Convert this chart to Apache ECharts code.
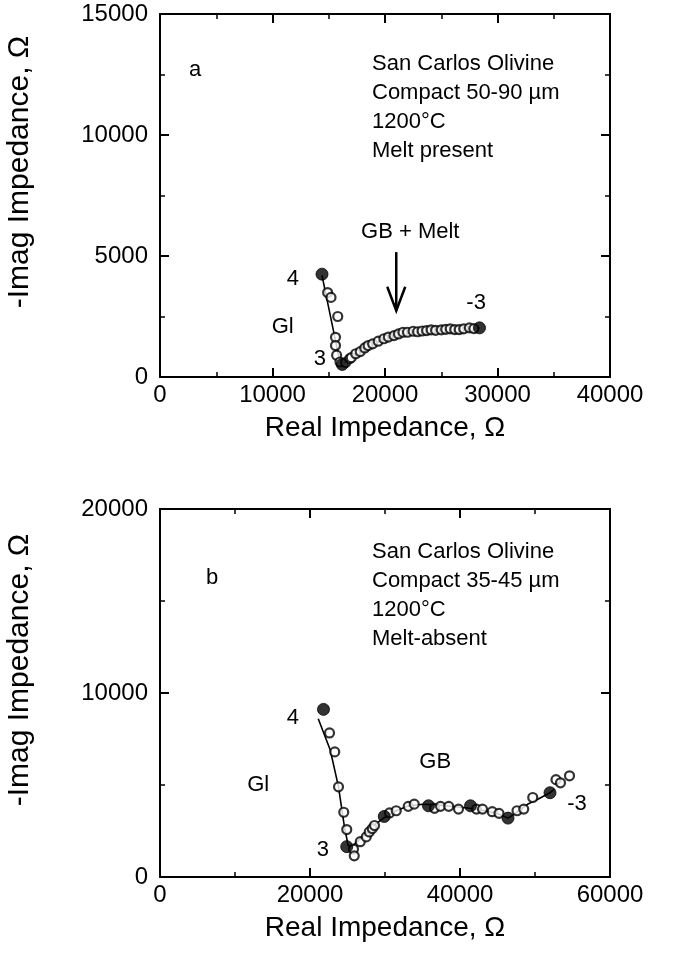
<!DOCTYPE html>
<html><head><meta charset="utf-8">
<script src="https://cdn.jsdelivr.net/npm/echarts@6/dist/echarts.min.js"></script>
<style>html,body{margin:0;padding:0;background:#fff}#c{width:685px;height:957px}</style>
</head><body><div id="c"></div>
<script>
// ---------- Panel a data ----------
const aOpenX = [14900,15200,15800,15600,15600,15700,16000,16500,16850,17000,17400,17800,18200,18500,18900,19400,19900,20300,20800,21200,21600,22000,22500,22900,23300,23700,24100,24500,25000,25400,25800,26200,26600,27000,27500,27900];
const aOpenY = [3490,3290,2500,1640,1300,900,620,600,750,800,960,1050,1200,1300,1370,1480,1580,1650,1710,1780,1850,1850,1890,1870,1900,1920,1950,1930,1950,1970,1990,1960,1960,1990,2030,2000];
const aFillX = [14400,16200,28400];
const aFillY = [4250,520,2030];
const aFitX = [14400,15600,15900,16200,16800,17500,18500,19500,20500,21500,22500,23500,24500,25500,26500,27500,28400];
const aFitY = [4200,1500,800,550,700,950,1250,1480,1650,1780,1850,1900,1940,1970,1990,2010,2030];
// ---------- Panel b data ----------
const bOpenX = [22600,23300,23800,24500,24900,25800,25900,26700,27500,27900,28300,28600,30600,31500,33100,33900,36600,37400,38500,39800,42200,43000,44300,45200,47600,48500,49700,52800,53400,54600];
const bOpenY = [7830,6800,4900,3520,2580,1510,1150,1920,2180,2450,2630,2800,3480,3600,3840,3960,3730,3840,3840,3690,3690,3690,3550,3460,3600,3690,4320,5290,5120,5500];
const bFillX = [21800,24900,29900,35800,41400,46400,52000];
const bFillY = [9110,1650,3290,3870,3870,3200,4580];
const bFitX = [21100,22700,23800,24600,25100,25600,26500,27500,28500,30000,31500,33000,35000,37000,39000,41000,43000,45000,46400,47500,49000,50500,52000,52600];
const bFitY = [8600,6900,4900,2700,1700,1650,2000,2350,2800,3250,3600,3850,3950,3920,3830,3750,3630,3450,3200,3500,3950,4250,4580,4780];
// ---------- Axes ----------
const aXTicks = {min:0, max:40000, interval:10000};
const aYTicks = {min:0, max:15000, interval:5000};
const bXTicks = {min:0, max:60000, interval:20000};
const bYTicks = {min:0, max:20000, interval:10000};
const xTitle = 'Real Impedance, Ω';
const yTitle = '-Imag Impedance, Ω';
// ---------- Annotations (data coordinates) ----------
const aLabels = [['4',11800,4050],['Gl',10900,2080],['3',14200,750],['-3',28100,3050]];
const bLabels = [['4',17700,8670],['Gl',13100,5030],['3',21700,1470],['GB',36700,6270],['-3',55600,3960]];
const aInfo = ['San Carlos Olivine','Compact 50-90 µm','1200°C','Melt present'];
const bInfo = ['San Carlos Olivine','Compact 35-45 µm','1200°C','Melt-absent'];
const aArrow = {x:21000, yTop:5160, yTip:2740, text:'GB + Melt'};

const FONT = '"Liberation Sans", Arial, Helvetica, sans-serif';
const zip = (xs, ys) => xs.map((x,i)=>[x, ys[i]]);

function axesFor(gi, xt, yt){
  const line = {show:true, onZero:false, lineStyle:{color:'#000', width:2}};
  const tick = {show:true, inside:true, length:9, lineStyle:{color:'#000', width:2}};
  const minor = {show:true, splitNumber:2, length:5, lineStyle:{color:'#000', width:1.5}};
  const lab = {color:'#000', fontSize:24, fontFamily:FONT, formatter:v=>String(v)};
  const xs = [
    {type:'value', gridIndex:gi, position:'bottom', min:xt.min, max:xt.max, interval:xt.interval,
     axisLine:line, axisTick:tick, minorTick:minor, splitLine:{show:false},
     axisLabel:Object.assign({margin:6}, lab),
     name:xTitle, nameLocation:'middle', nameGap:37, nameTextStyle:{color:'#000', fontSize:28, fontFamily:FONT, verticalAlign:'top'}},
    {type:'value', gridIndex:gi, position:'top', min:xt.min, max:xt.max, interval:xt.interval,
     axisLine:line, axisTick:tick, minorTick:minor, splitLine:{show:false}, axisLabel:{show:false}}
  ];
  const ys = [
    {type:'value', gridIndex:gi, position:'left', min:yt.min, max:yt.max, interval:yt.interval,
     axisLine:line, axisTick:tick, minorTick:minor, splitLine:{show:false},
     axisLabel:Object.assign({margin:12}, lab)},
    {type:'value', gridIndex:gi, position:'right', min:yt.min, max:yt.max, interval:yt.interval,
     axisLine:line, axisTick:tick, minorTick:minor, splitLine:{show:false}, axisLabel:{show:false}}
  ];
  return {xs, ys};
}
const A = axesFor(0, aXTicks, aYTicks);
const B = axesFor(1, bXTicks, bYTicks);

function panelSeries(xi, yi, fitX, fitY, openX, openY, fillX, fillY){
  return [
    {type:'line', xAxisIndex:xi, yAxisIndex:yi, data:zip(fitX, fitY), showSymbol:false, symbol:'none',
     lineStyle:{color:'#000', width:1.6}, z:2, animation:false},
    {type:'scatter', xAxisIndex:xi, yAxisIndex:yi, data:zip(openX, openY), symbol:'circle', symbolSize:9,
     itemStyle:{color:'#fff', borderColor:'#000', borderWidth:2.2}, z:3, animation:false},
    {type:'scatter', xAxisIndex:xi, yAxisIndex:yi, data:zip(fillX, fillY), symbol:'circle', symbolSize:12,
     itemStyle:{color:'#000', borderColor:'#000', borderWidth:1}, z:4, animation:false}
  ];
}

const chart = echarts.init(document.getElementById('c'), null, {renderer:'canvas'});
chart.setOption({
  backgroundColor:'#fff',
  animation:false,
  grid:[
    {left:160, top:14, width:450, height:363},
    {left:160, top:509, width:450, height:368}
  ],
  xAxis:[...A.xs, ...B.xs],
  yAxis:[...A.ys, ...B.ys],
  series:[
    ...panelSeries(0, 0, aFitX, aFitY, aOpenX, aOpenY, aFillX, aFillY),
    ...panelSeries(2, 2, bFitX, bFitY, bOpenX, bOpenY, bFillX, bFillY)
  ]
});

// graphics: info text, panel letters, y titles, arrow, point labels
const g = [];
const TXT = '22px ' + FONT;
function infoBlock(lines, x, y0, dy){
  lines.forEach((t,i)=>g.push({type:'text', x:x, y:y0+i*dy, style:{text:t, fill:'#000', font:TXT, verticalAlign:'middle'}}));
}
infoBlock(aInfo, 372, 64, 29);
infoBlock(bInfo, 372, 552, 29);
g.push({type:'text', x:195, y:70, style:{text:'a', fill:'#000', font:TXT, align:'center', verticalAlign:'middle'}});
g.push({type:'text', x:212, y:578, style:{text:'b', fill:'#000', font:TXT, align:'center', verticalAlign:'middle'}});
function yTitleAt(cy){
  g.push({type:'text', x:20, y:cy, rotation:Math.PI/2, style:{text:yTitle, fill:'#000', font:'30px '+FONT, align:'center', verticalAlign:'middle'}});
}
yTitleAt(172);
yTitleAt(670);
function pointLabels(labels, xi, yi){
  labels.forEach(l=>{
    const p = chart.convertToPixel({xAxisIndex:xi, yAxisIndex:yi}, [l[1], l[2]]);
    g.push({type:'text', x:p[0], y:p[1], style:{text:l[0], fill:'#000', font:TXT, align:'center', verticalAlign:'middle'}});
  });
}
pointLabels(aLabels, 0, 0);
pointLabels(bLabels, 2, 2);
const arrTop = chart.convertToPixel({xAxisIndex:0, yAxisIndex:0}, [aArrow.x, aArrow.yTop]);
const arrTip = chart.convertToPixel({xAxisIndex:0, yAxisIndex:0}, [aArrow.x, aArrow.yTip]);
g.push({type:'line', shape:{x1:arrTop[0], y1:arrTop[1], x2:arrTip[0], y2:arrTip[1]}, style:{stroke:'#000', lineWidth:2.5}});
g.push({type:'polyline', shape:{points:[[arrTip[0]-9, arrTip[1]-24],[arrTip[0], arrTip[1]],[arrTip[0]+9, arrTip[1]-24]]}, style:{stroke:'#000', lineWidth:2.5, fill:null}});
g.push({type:'text', x:arrTop[0]+14, y:arrTop[1]-20, style:{text:aArrow.text, fill:'#000', font:TXT, align:'center', verticalAlign:'middle'}});
chart.setOption({graphic:g});
</script></body></html>
